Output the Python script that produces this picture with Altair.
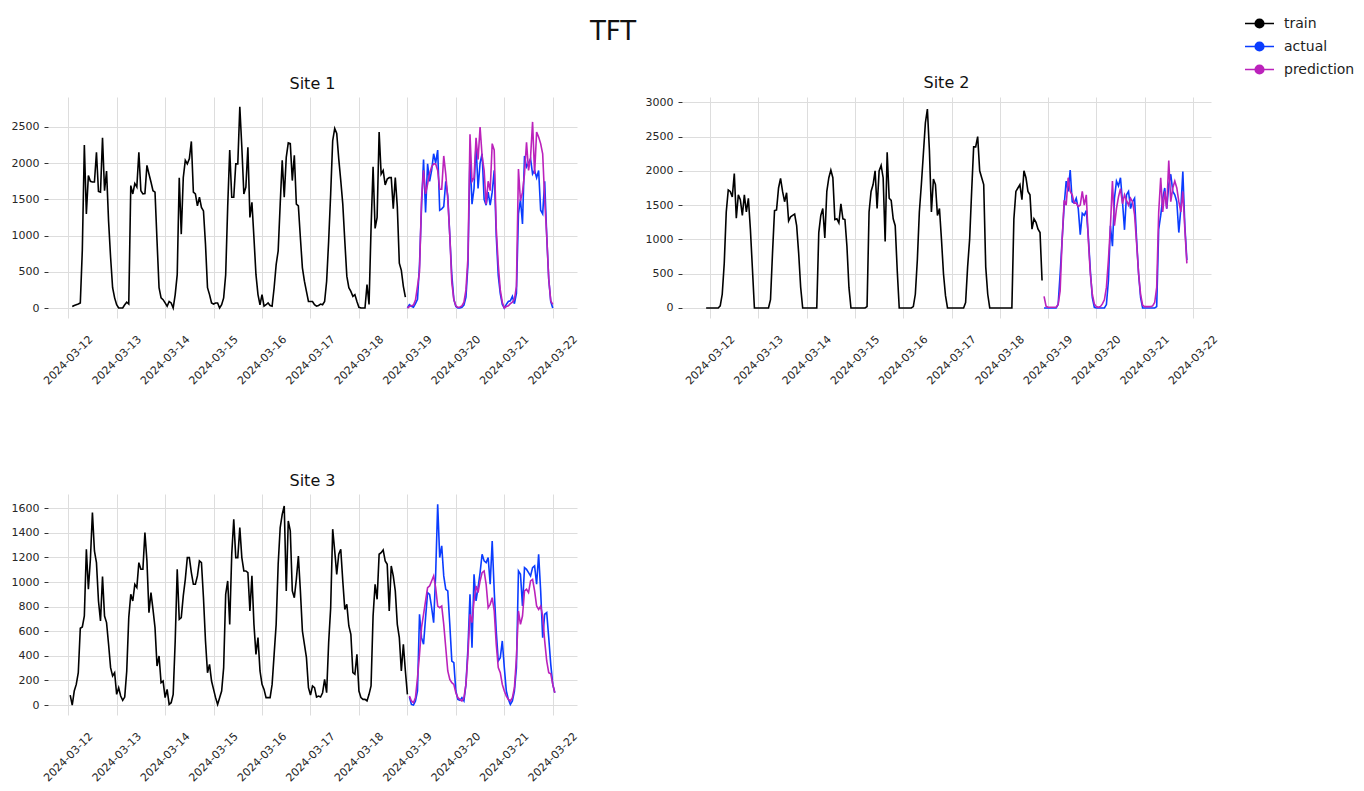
import altair as alt
import pandas as pd

# Site 1 (hourly, from the picture)
site1_train_start = "2024-03-12 02:00"
site1_train = [
    20, 35, 45, 55, 70, 800, 2250, 1300, 1830, 1750, 1740, 1740, 2150, 1610, 1600, 2350, 1620, 1890, 1200, 700, 280, 140,
    45, 0, 0, 0, 45, 80, 55, 1690, 1575, 1720, 1670, 2150, 1620, 1575, 1580, 1970, 1850, 1740, 1620, 1600, 925, 280, 140, 115,
    70, 25, 90, 70, 0, 185, 460, 1800, 1020, 1800, 2040, 1990, 2060, 2300, 1600, 1575, 1410, 1530, 1390, 1340, 880, 280, 185, 70,
    55, 70, 70, 0, 45, 140, 460, 1400, 2180, 1530, 1530, 1990, 1990, 2780, 2220, 1575, 1670, 2220, 1250, 1460, 970, 460, 185, 45,
    185, 25, 45, 70, 35, 25, 280, 600, 790, 1435, 2040, 1530, 2080, 2280, 2270, 1760, 2110, 1435, 1410, 970, 555, 370, 230, 90,
    90, 90, 45, 25, 35, 55, 45, 90, 370, 925, 1575, 2310, 2480, 2410, 2060, 1760, 1435, 925, 440, 280, 230, 160, 185, 90,
    10, 0, 0, 0, 325, 50, 1100, 1950, 1100, 1250, 2430, 1850, 1900, 1700, 1780, 1800, 1800, 1370, 1800, 1400, 620, 520, 300, 150,
]
site1_test_start = "2024-03-19 00:00"
site1_actual = [
    0, 45, 25, 10, 60, 120, 600, 1400, 2050, 1320, 1990, 1750, 1900, 2130, 2000, 2180, 1350, 1370, 1400, 1750, 1550, 1000, 450, 120,
    20, 0, 0, 10, 40, 150, 600, 2130, 1435, 1650, 2250, 1650, 2000, 2130, 1500, 1420, 1600, 1420, 1600, 1900, 1000, 450, 200, 50,
    0, 50, 90, 100, 160, 60, 200, 1300, 1500, 1160, 2100, 1950, 2000, 2060, 1850, 1900, 1800, 1900, 1350, 1300, 1750, 1000, 400, 90,
    0,
]
site1_pred = [
    0, 20, 30, 40, 110, 300, 500, 1500, 1900, 1575, 1710, 1860, 1950, 1990, 1990, 1900, 1640, 1640, 2100, 1850, 1500, 1000, 350, 115,
    30, 10, 15, 30, 80, 250, 700, 2400, 1750, 1800, 2350, 2050, 2500, 2100, 1900, 1435, 1750, 1620, 2270, 2180, 1100, 600, 250, 80,
    0, 20, 30, 60, 80, 120, 300, 1920, 1480, 1600, 1850, 2290, 1900, 2080, 2570, 1850, 2430, 2360, 2270, 2130, 1500, 1000, 400, 100,
    50,
]

# Site 2
site2_train_start = "2024-03-11 22:00"
site2_train = [
    0, 0,
    0, 0, 0, 0, 0, 30, 200, 650, 1400, 1720, 1700, 1620, 1960, 1310, 1650, 1580, 1350, 1650, 1400, 1600, 1150, 580, 0, 0,
    0, 0, 0, 0, 0, 0, 120, 800, 1420, 1430, 1750, 1890, 1700, 1550, 1680, 1270, 1330, 1350, 1370, 1200, 800, 300, 0, 0,
    0, 0, 0, 0, 0, 0, 1100, 1350, 1450, 1020, 1700, 1900, 2010, 1900, 1290, 1300, 1240, 1520, 1300, 1290, 900, 300, 0, 0,
    0, 0, 0, 0, 0, 0, 20, 1400, 1700, 1800, 2000, 1450, 2000, 2080, 1900, 970, 2270, 1600, 1570, 1300, 1200, 550, 0, 0,
    0, 0, 0, 0, 0, 20, 200, 700, 1400, 1800, 2250, 2700, 2900, 2300, 1400, 1880, 1800, 1350, 1450, 1000, 500, 180, 0, 0,
    0, 0, 0, 0, 0, 0, 0, 80, 600, 1000, 1700, 2350, 2350, 2500, 2000, 1900, 1800, 600, 200, 0, 0, 0, 0, 0,
    0, 0, 0, 0, 0, 0, 0, 1300, 1700, 1750, 1800, 1580, 2000, 1900, 1700, 1650, 1150, 1300, 1250, 1150, 1100, 400,
]
site2_test_start = "2024-03-18 22:00"
site2_actual = [
    0, 0, 0, 0, 0, 0, 0, 50, 500, 1000, 1500, 1850, 1700, 2010, 1550, 1530, 1600, 1450, 1070, 1380, 1350, 1420, 1050, 550, 150, 10,
    0, 0, 0, 0, 0, 50, 400, 1200, 900, 1600, 1850, 1780, 1900, 1550, 1140, 1650, 1700, 1450, 1550, 1600, 1000, 500, 150,
    0, 0, 0, 0, 0, 0, 0, 20, 1150, 1350, 1600, 1750, 1450, 1800, 1950, 1700, 1650, 1550, 1100, 1450, 1990, 1200, 700,
]
site2_pred = [
    170, 25, 10, 10, 10, 10, 10, 50, 250, 1000, 1570, 1500, 1900, 1700, 1650, 1530, 1530, 1480, 1500, 1700, 1500, 1650, 1000, 500, 200, 60,
    20, 10, 20, 60, 120, 300, 700, 1200, 1850, 1200, 1450, 1620, 1740, 1520, 1650, 1570, 1500, 1600, 1550, 1360, 950, 500, 200,
    40, 20, 20, 20, 20, 30, 80, 300, 1400, 1900, 1400, 1700, 1450, 2150, 1550, 1750, 1850, 1750, 1550, 1400, 1700, 1150, 650,
]

# Site 3
site3_train_start = "2024-03-12 01:00"
site3_train = [
    81, 0, 114, 168, 263, 624, 635, 724, 1266, 941, 1185, 1565, 1253, 1158, 846, 683, 1044, 724, 670, 494,
    304, 236, 263, 87, 141, 73, 38, 65, 277, 711, 900, 846, 982, 955, 1158, 1104, 1104, 1402, 1172, 751,
    914, 778, 629, 317, 399, 182, 195, 60, 127, 5, 19, 87, 521, 1104, 697, 711, 887, 1022, 1199, 1199,
    1077, 982, 982, 1050, 1172, 1158, 873, 521, 263, 331, 195, 127, 60, 5, 60, 114, 304, 900, 1009, 656,
    1226, 1511, 1199, 1199, 1443, 1199, 1090, 1090, 1077, 765, 1050, 656, 412, 548, 277, 168, 127, 60, 60, 60,
    168, 412, 656, 1144, 1443, 1551, 1619, 928, 1497, 1416, 928, 873, 1022, 1212, 928, 602, 494, 385, 141, 81,
    155, 141, 65, 73, 65, 100, 209, 100, 507, 790, 1430, 1253, 1063, 1226, 1266, 1009, 778, 819, 643, 575,
    263, 250, 412, 114, 60, 46, 46, 33, 87, 155, 724, 982, 860, 1226, 1239, 1261, 1172, 1144, 765, 1131,
    1050, 928, 656, 548, 277, 494, 277, 87,
]
site3_test_start = "2024-03-19 01:00"
site3_actual = [
    65, 5, 0, 33, 114, 738, 548, 494, 711, 914, 900, 792, 670, 1063, 1633, 1199, 1294, 1050, 941, 928,
    656, 358, 344, 114, 46, 38, 60, 33, 168, 466, 900, 466, 1063, 846, 955, 1077, 1226, 1172, 1158, 1199,
    982, 1334, 928, 602, 358, 385, 521, 304, 114, 46, 5, 33, 114, 304, 1090, 1063, 805, 1117, 1104, 1077,
    1050, 1117, 1131, 982, 1226, 928, 548, 738, 751, 548, 331, 168, 100,
]
site3_pred = [
    73, 33, 19, 60, 222, 412, 629, 738, 846, 955, 968, 1009, 1050, 955, 805, 792, 805, 656, 466, 277,
    209, 182, 168, 100, 60, 46, 33, 60, 168, 412, 738, 670, 846, 968, 914, 1009, 1077, 1090, 982, 792,
    819, 873, 765, 494, 304, 263, 168, 114, 73, 46, 33, 60, 141, 385, 765, 656, 724, 928, 941, 914,
    1009, 1022, 928, 805, 778, 805, 724, 521, 358, 263, 255, 168, 100,
]

SERIES = ["train", "actual", "prediction"]
COLORS = ["#000000", "#0a3cff", "#bb22bb"]
FONT = "DejaVu Sans"


def frame(site, series, start, values):
    ts = pd.date_range(start, periods=len(values), freq="h")
    return pd.DataFrame({"site": site, "series": series, "ts": ts, "value": values})


df = pd.concat(
    [
        frame("Site 1", "train", site1_train_start, site1_train),
        frame("Site 1", "actual", site1_test_start, site1_actual),
        frame("Site 1", "prediction", site1_test_start, site1_pred),
        frame("Site 2", "train", site2_train_start, site2_train),
        frame("Site 2", "actual", site2_test_start, site2_actual),
        frame("Site 2", "prediction", site2_test_start, site2_pred),
        frame("Site 3", "train", site3_train_start, site3_train),
        frame("Site 3", "actual", site3_test_start, site3_actual),
        frame("Site 3", "prediction", site3_test_start, site3_pred),
    ],
    ignore_index=True,
)

day_ticks = [alt.DateTime(year=2024, month=3, date=d) for d in range(12, 23)]

# line + filled dot, like the matplotlib legend handles
rings = "".join(
    f"M{r},0A{r},{r},0,1,1,{-r},0A{r},{r},0,1,1,{r},0" for r in (0.3, 0.24, 0.18, 0.12, 0.06, 0.02)
)
legend_symbol = "M-1,0L1,0" + rings


def site_chart(site, x_from, x_to, y_dom, y_ticks):
    return (
        alt.Chart(df[df["site"] == site])
        .mark_line(strokeWidth=1.6)
        .encode(
            x=alt.X(
                "ts:T",
                scale=alt.Scale(domain=[x_from, x_to]),
                axis=alt.Axis(
                    title=None,
                    values=day_ticks,
                    format="%Y-%m-%d",
                    labelAngle=-45,
                    labelAlign="center",
                    labelBaseline="middle",
                    labelPadding=42,
                    ticks=False,
                    tickSize=0,
                    labelOverlap=False,
                ),
            ),
            y=alt.Y(
                "value:Q",
                scale=alt.Scale(domain=y_dom, nice=False, zero=False),
                axis=alt.Axis(
                    title=None,
                    values=y_ticks,
                    format="d",
                    tickSize=4,
                    tickColor="#333333",
                    labelPadding=5,
                    labelOverlap=False,
                ),
            ),
            color=alt.Color(
                "series:N",
                scale=alt.Scale(domain=SERIES, range=COLORS),
                legend=alt.Legend(
                    title=None,
                    orient="none",
                    legendX=1196,
                    legendY=-89,
                    symbolType=legend_symbol,
                    symbolSize=841,
                    symbolStrokeWidth=1.5,
                    labelFontSize=14,
                    labelFont=FONT,
                    labelColor="#222222",
                    labelOffset=9,
                    rowPadding=-11,
                ),
            ),
        )
        .properties(
            width=529,
            height=221,
            title=alt.TitleParams(site, fontSize=16, fontWeight="normal", font=FONT, color="#111111", offset=5),
        )
    )


s1 = site_chart(
    "Site 1",
    alt.DateTime(year=2024, month=3, date=11, hours=14),
    alt.DateTime(year=2024, month=3, date=22, hours=12),
    [-138, 2914],
    [0, 500, 1000, 1500, 2000, 2500],
)
s2 = site_chart(
    "Site 2",
    alt.DateTime(year=2024, month=3, date=11, hours=10),
    alt.DateTime(year=2024, month=3, date=22, hours=9),
    [-146, 3077],
    [0, 500, 1000, 1500, 2000, 2500, 3000],
)
s3 = site_chart(
    "Site 3",
    alt.DateTime(year=2024, month=3, date=11, hours=14),
    alt.DateTime(year=2024, month=3, date=22, hours=12),
    [-81, 1716],
    [0, 200, 400, 600, 800, 1000, 1200, 1400, 1600],
)

top = alt.hconcat(s1, s2, spacing=66).resolve_scale(x="independent", y="independent", color="shared")
chart = (
    alt.vconcat(top, s3, spacing=86)
    .resolve_scale(x="independent", y="independent", color="shared")
    .properties(
        title=alt.TitleParams(
            "TFT", fontSize=26, fontWeight="normal", font=FONT, color="#111111",
            anchor="middle", offset=-37, dx=-70,
        ),
        padding={"left": 3, "top": 0, "right": 0, "bottom": 0},
    )
    .configure(font=FONT)
    .configure_view(stroke=None)
    .configure_axis(
        domain=False,
        gridColor="#dddddd",
        gridWidth=1,
        labelFont=FONT,
        labelFontSize=11,
        labelColor="#262626",
    )
)

chart.save("out.html", embed_options={"renderer": "svg", "actions": False})
